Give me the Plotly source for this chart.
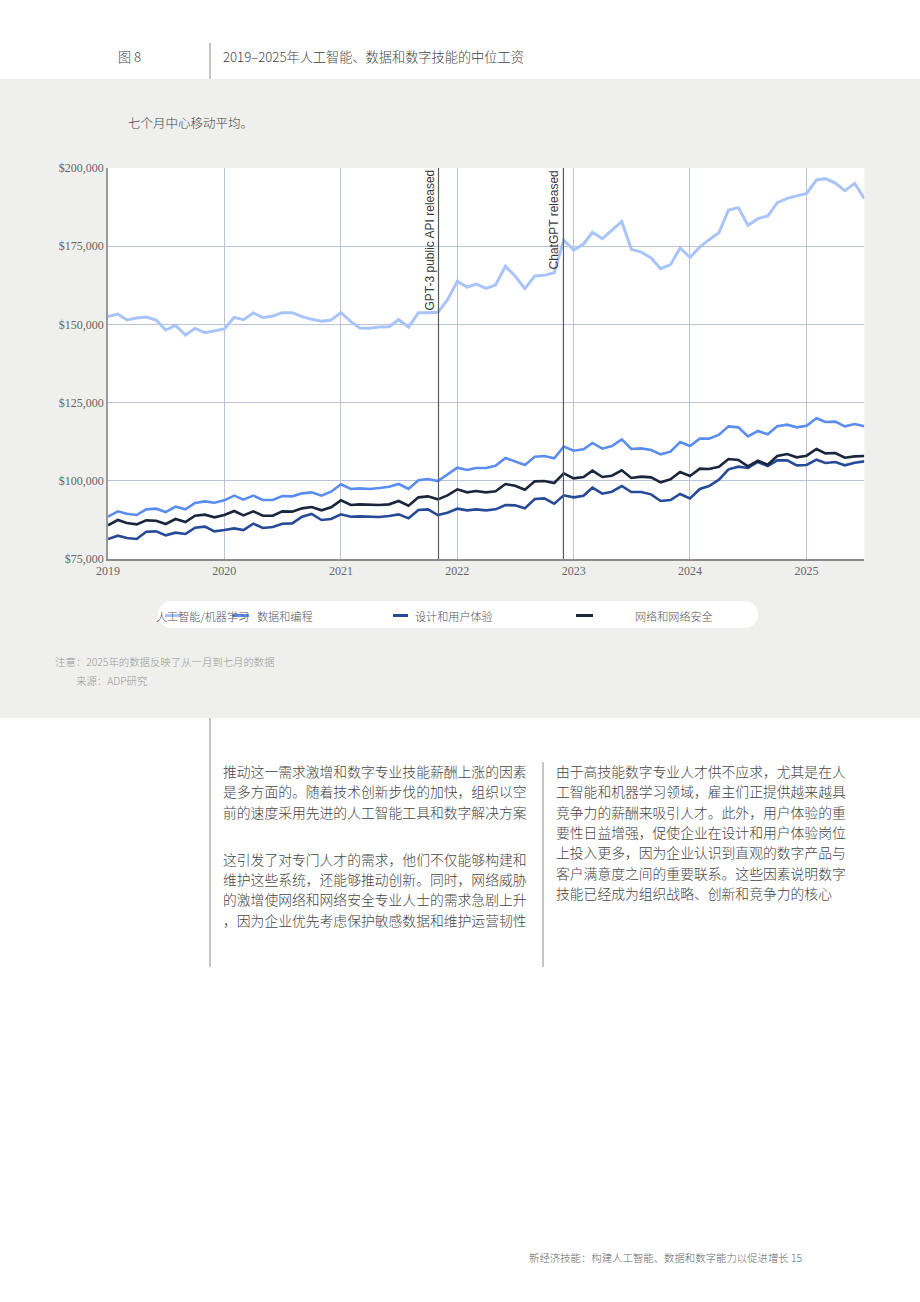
import pandas as pd
import plotly.graph_objects as go

# ---------------- data ----------------
months = pd.date_range("2019-01-01", periods=79, freq="MS")

ai_ml = [152470,153320,151400,152040,152360,151400,148200,149700,146610,148740,
         147350,147890,148530,152260,151510,153640,152150,152680,153750,153750,
         152470,151620,150980,151400,153750,150870,148850,148740,149170,149270,
         151510,149170,153750,153750,153860,157800,163770,161960,162920,161530,
         162590,168560,165470,161420,165470,165680,166540,176980,173780,175700,
         179430,177410,179970,182850,174000,173140,171230,167820,169100,174420,
         171440,174740,177090,179330,186570,187320,181670,183800,184650,188920,
         190300,191050,191900,196160,196590,195200,192750,195100,190300]

data_prog = [88530,90235,89490,89060,90875,91090,90020,91730,90875,92900,
             93430,93005,93750,95245,93965,95245,93860,93860,95140,95030,
             95990,96310,95245,96525,98870,97380,97590,97380,97695,98120,
             98975,97380,100150,100575,99935,102065,104195,103450,104090,
             104090,104835,107285,106220,105045,107710,107925,107180,110910,109630,
             110060,112090,110270,111125,113255,110165,110375,109845,108460,109310,
             112405,111125,113470,113470,114745,117410,117090,114215,115920,114855,
             117410,117945,117090,117625,119970,118795,118905,117410,118155,117410]

design_ux = [81390,82455,81710,81390,83735,83840,82560,83415,82990,85015,
             85335,83840,84265,84800,84265,86290,84905,85225,86290,86400,
             88530,89385,87465,87780,89275,88530,88635,88635,88425,88745,
             89275,87995,90660,90875,89060,89810,91090,90555,90875,
             90555,90875,92260,92155,91195,94180,94390,92685,95350,94710,
             95245,97800,95885,96525,98335,96415,96415,95670,93540,93860,
             95775,94390,97380,98335,100360,103665,104515,104090,106010,104725,
             106540,106540,104940,105050,106755,105685,106010,104940,105790,106220]

network_sec = [85760,87460,86505,86080,87355,87250,86185,87780,86825,88850,
               89170,88315,89060,90340,88955,90235,88850,88850,90235,90130,
               91195,91620,90555,91515,93750,92255,92470,92255,92255,92470,
               93540,92045,94710,95030,94070,95350,97270,96310,96735,
               96310,96630,98975,98440,97160,99825,99935,99295,102385,100785,
               101215,103240,101215,101640,103345,100895,101320,101105,99505,100465,
               102810,101530,103875,103770,104515,106965,106650,104620,106435,105155,
               107925,108565,107500,108030,110165,108780,108885,107395,107820,107925]

series_names = ["人工智能/机器学习", "数据和编程", "设计和用户体验", "网络和网络安全"]
series_values = [ai_ml, data_prog, design_ux, network_sec]

event_dates = ["2021-11-03", "2022-11-30"]
event_labels = ["GPT-3 public API released", "ChatGPT released"]

year_ticks = ["2019", "2020", "2021", "2022", "2023", "2024", "2025"]

# ---------------- styles ----------------
W, H = 920, 1302
colors = ["#a9c4fa", "#5b8cf0", "#274997", "#1b253c"]
widths = [3, 2.6, 2.6, 2.6]
CJK = "Noto Sans CJK SC"
SERIF = "Liberation Serif"
SANS = "Liberation Sans"

PL, PR, PT, PB = 108, 864.3, 168, 559


def px(x):
    return x / W


def py(y):
    return 1 - y / H


fig = go.Figure()
for name, vals, c, w in zip(series_names, series_values, colors, widths):
    fig.add_trace(go.Scatter(x=months, y=vals, mode="lines", name=name,
                             line=dict(color=c, width=w), showlegend=False,
                             hovertemplate="%{x|%Y-%m}: $%{y:,}<extra>" + name + "</extra>"))

shapes = []
# grey band and white plot area
shapes.append(dict(type="rect", xref="paper", yref="paper", x0=0, x1=1, y0=py(718), y1=py(79),
                   fillcolor="#efefed", line=dict(width=0), layer="below"))
shapes.append(dict(type="rect", xref="paper", yref="paper", x0=px(PL), x1=px(PR), y0=py(PB), y1=py(PT),
                   fillcolor="#ffffff", line=dict(width=0), layer="below"))
# legend pill
lx0, lx1, ly0, ly1 = 158, 758, 601, 628
r = (ly1 - ly0) / 2
shapes.append(dict(type="rect", xref="paper", yref="paper", x0=px(lx0 + r), x1=px(lx1 - r),
                   y0=py(ly1), y1=py(ly0), fillcolor="#ffffff", line=dict(width=0), layer="below"))
for cx in (lx0 + r, lx1 - r):
    shapes.append(dict(type="circle", xref="paper", yref="paper", x0=px(cx - r), x1=px(cx + r),
                       y0=py(ly1), y1=py(ly0), fillcolor="#ffffff", line=dict(width=0), layer="below"))
# legend swatches
swatches = [(165, 181), (232, 249), (393, 408), (576, 593)]
for (a, b), c in zip(swatches, colors):
    shapes.append(dict(type="line", xref="paper", yref="paper", x0=px(a), x1=px(b),
                       y0=py(615.5), y1=py(615.5), line=dict(color=c, width=3)))
# separators
for x, y0, y1 in [(210, 43, 79), (210, 718, 967), (543, 762, 967)]:
    shapes.append(dict(type="line", xref="paper", yref="paper", x0=px(x), x1=px(x),
                       y0=py(y1), y1=py(y0), line=dict(color="#8c8c8c", width=1)))
# event lines
for d in event_dates:
    shapes.append(dict(type="line", xref="x", yref="paper", x0=d, x1=d,
                       y0=py(PB), y1=py(PT), line=dict(color="#5a5a5a", width=1.2)))

annotations = []


def ann(text, x, y, size, color="#444444", family=CJK, xanchor="left"):
    annotations.append(dict(text=text, xref="paper", yref="paper", x=px(x), y=py(y),
                            xanchor=xanchor, yanchor="middle", showarrow=False,
                            font=dict(family=family, size=size, color=color, weight=300)))


ann("图 8", 116, 57, 13.2)
ann("2019–2025年人工智能、数据和数字技能的中位工资", 221, 57, 13.2)
ann("七个月中心移动平均。", 126, 123, 12.5)

for d, t in zip(event_dates, event_labels):
    annotations.append(dict(text=t, xref="x", yref="paper", x=d, y=py(PT), xanchor="right",
                            yanchor="top", textangle=-90, showarrow=False, xshift=-0.5,
                            font=dict(family=SANS, size=12, color="#3a3a3a")))

# legend labels
ann("人工智能/机器学习", 154, 616, 11.1, "#555555")
ann("数据和编程", 255, 616, 11.1, "#555555")
ann("设计和用户体验", 413, 616, 11.1, "#555555")
ann("网络和网络安全", 633, 616, 11.1, "#555555")

ann("注意：2025年的数据反映了从一月到七月的数据", 53, 662, 10.4, "#999999")
ann("来源：ADP研究", 74, 680, 10.4, "#999999")

col1 = [(771, "推动这一需求激增和数字专业技能薪酬上涨的因素"),
        (791, "是多方面的。随着技术创新步伐的加快，组织以空"),
        (812, "前的速度采用先进的人工智能工具和数字解决方案"),
        (859, "这引发了对专门人才的需求，他们不仅能够构建和"),
        (879, "维护这些系统，还能够推动创新。同时，网络威胁"),
        (899, "的激增使网络和网络安全专业人士的需求急剧上升"),
        (920, "，因为企业优先考虑保护敏感数据和维护运营韧性")]
col2 = [(771, "由于高技能数字专业人才供不应求，尤其是在人"),
        (791, "工智能和机器学习领域，雇主们正提供越来越具"),
        (812, "竞争力的薪酬来吸引人才。此外，用户体验的重"),
        (832, "要性日益增强，促使企业在设计和用户体验岗位"),
        (852, "上投入更多，因为企业认识到直观的数字产品与"),
        (873, "客户满意度之间的重要联系。这些因素说明数字"),
        (893, "技能已经成为组织战略、创新和竞争力的核心")]
for y, t in col1:
    ann(t, 221, y, 13.8)
for y, t in col2:
    ann(t, 554, y, 13.8)

ann("新经济技能：构建人工智能、数据和数字能力以促进增长 15", 527, 1257, 10.4, "#666666")

fig.update_layout(
    width=W, height=H,
    margin=dict(l=0, r=0, t=0, b=0),
    paper_bgcolor="#ffffff", plot_bgcolor="#ffffff",
    showlegend=False,
    shapes=shapes, annotations=annotations,
    xaxis=dict(domain=[px(PL), px(PR)], type="date",
               range=["2019-01-01", "2025-07-01"],
               tickvals=[f"{y}-01-01" for y in year_ticks], ticktext=year_ticks,
               showgrid=True, gridcolor="#bcc2d7", gridwidth=1,
               showline=True, linecolor="#8a8a8a", linewidth=1.5,
               ticks="", zeroline=False, automargin=False,
               tickfont=dict(family=SERIF, size=12, color="#666666")),
    yaxis=dict(domain=[py(PB), py(PT)], range=[75000, 200000],
               tickmode="linear", tick0=75000, dtick=25000,
               tickprefix="$", tickformat=",d",
               showgrid=True, gridcolor="#bcc2d7", gridwidth=1,
               showline=True, linecolor="#9a9a9a", linewidth=1.5,
               ticks="", zeroline=False, automargin=False,
               tickfont=dict(family=SERIF, size=12, color="#666666")),
)

fig.write_html("out.html")
